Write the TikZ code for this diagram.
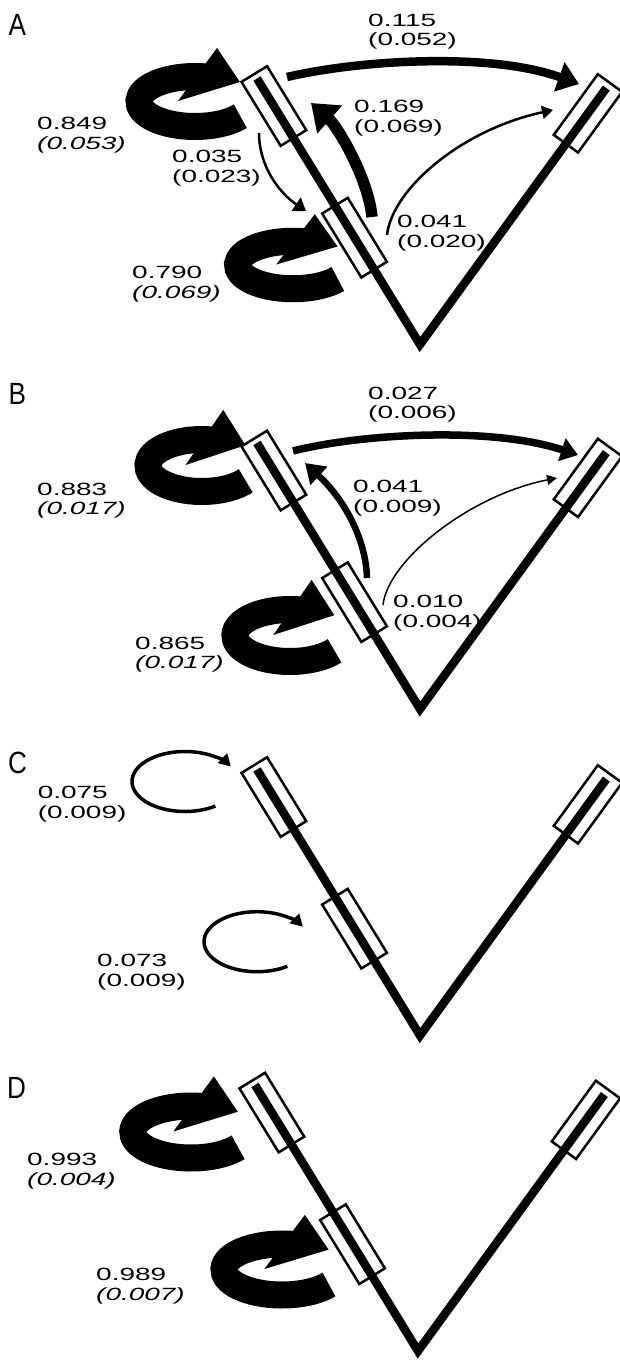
\documentclass[tikz,border=0pt]{standalone}
\usepackage{fontspec}
\usetikzlibrary{arrows.meta}
\newfontfamily\valfont{Liberation Sans}[FakeStretch=1.58]
\newfontfamily\panelfont{Liberation Sans}[FakeStretch=0.85]

\begin{document}
\begin{tikzpicture}[
        x=1pt, y=-1pt,
        box/.style={rectangle, draw, line width=2.5pt, fill=white, minimum width=75pt, minimum height=30pt, inner sep=0pt},
        branch/.style={line width=8.5pt},
        val/.style={anchor=north west, inner sep=0pt, align=left, font=\valfont\fontsize{17.7}{19.6}\selectfont},
        panel/.style={anchor=base west, inner sep=0pt, font=\panelfont\fontsize{30.7}{32}\selectfont},
        tree/.pic={
            \node[box, rotate=121.5] (-top) at (238.5:279.7) {};
            \node[box, rotate=121.5] (-mid) at (238.5:125.3) {};
            \node[box, rotate=54] (-right) at (306:285.7) {};
            \draw[branch] (238.5:312) -- (0,0) -- (306:317);
        },
        bigloop/.pic={
            \draw[line width=27pt] (36:56 and 25) arc[start angle=36, end angle=282, x radius=56, y radius=25];
            \fill (22,-53.5) -- (45,-19.5) -- (-17,-0.5) -- cycle;
        },
        thinloop/.pic={
            \draw[line width=3.5pt, -{Triangle[length=12pt, width=13pt]}] (55:53 and 30) arc[start angle=55, end angle=330, x radius=53, y radius=30];
        }
    ]
        \useasboundingbox (0,0) rectangle (620,1360);

        % Panel A
        \node[panel] (labA) at (8.5,35) {A};
        \pic (a) at (420,344.5) {tree};
        \pic at (195,101.5) {bigloop};
        \pic[xscale=0.99, yscale=0.95] at (293,265) {bigloop};
        \coordinate (a1) at (287,77);
        \coordinate (a2) at (579,84);
        \coordinate (a3) at (372,217);
        \coordinate (a4) at (311,103);
        \coordinate (a5) at (259,133);
        \coordinate (a6) at (306,211);
        \coordinate (a7) at (387,235);
        \coordinate (a8) at (553,110);
        \draw[line width=8.5pt, -{Triangle[length=21pt, width=30pt]}] (a1) .. controls (360,60) and (490,52) .. (a2);
        \draw[line width=11.5pt, -{Triangle[length=25pt, width=36pt]}] (a3) .. controls (368,177) and (337,126) .. (a4);
        \draw[line width=2.5pt, -{Triangle[length=12pt, width=16pt]}] (a5) .. controls (259,165) and (278,192) .. (a6);
        \draw[line width=2.5pt, -{Triangle[length=11pt, width=13pt]}] (a7) .. controls (392,190) and (460,130) .. (a8);
        \node[val] (a115) at (368,13.5) {0.115\\(0.052)};
        \node[val] (a169) at (354,100) {0.169\\(0.069)};
        \node[val] (a849) at (37,117.3) {0.849\\\itshape(0.053)};
        \node[val] (a035) at (172,150) {0.035\\(0.023)};
        \node[val] (a041) at (397,215) {0.041\\(0.020)};
        \node[val] (a790) at (132,266) {0.790\\\itshape(0.069)};

        % Panel B
        \node[panel] (labB) at (8.5,404) {B};
        \pic (b) at (420,709) {tree};
        \pic[xscale=0.965, yscale=1.04] at (202,465.5) {bigloop};
        \pic[xscale=0.984, yscale=1.04] at (290,635.5) {bigloop};
        \coordinate (b1) at (293,451);
        \coordinate (b2) at (578,455);
        \coordinate (b3) at (367,578);
        \coordinate (b4) at (305,463);
        \coordinate (b5) at (383,605);
        \coordinate (b6) at (557,478);
        \draw[line width=7.5pt, -{Triangle[length=17pt, width=23pt]}] (b1) .. controls (360,434) and (490,426) .. (b2);
        \draw[line width=6.5pt, -{Triangle[length=19pt, width=24pt]}] (b3) .. controls (366,540) and (345,500) .. (b4);
        \draw[line width=1.5pt, -{Triangle[length=10pt, width=10pt]}] (b5) .. controls (388,560) and (470,495) .. (b6);
        \node[val] (b027) at (368,386.7) {0.027\\(0.006)};
        \node[val] (b041) at (353,480) {0.041\\(0.009)};
        \node[val] (b883) at (37,482.5) {0.883\\\itshape(0.017)};
        \node[val] (b010) at (393,595) {0.010\\(0.004)};
        \node[val] (b865) at (135,636.7) {0.865\\\itshape(0.017)};

        % Panel C
        \node[panel] (labC) at (8,773) {C};
        \pic (c) at (420,1035.5) {tree};
        \pic at (185,781.5) {thinloop};
        \pic at (257,941.7) {thinloop};
        \node[val] (c075) at (37.6,786) {0.075\\(0.009)};
        \node[val] (c073) at (97,954) {0.073\\(0.009)};

        % Panel D
        \node[panel] (labD) at (7,1098) {D};
        \pic (d) at (418,1351) {tree};
        \pic[scale=1.04] at (191,1132) {bigloop};
        \pic[xscale=1.037, yscale=1.02] at (282,1269.5) {bigloop};
        \node[val] (d993) at (27,1153) {0.993\\\itshape(0.004)};
        \node[val] (d989) at (96,1268) {0.989\\\itshape(0.007)};
    \end{tikzpicture}
\end{document}
